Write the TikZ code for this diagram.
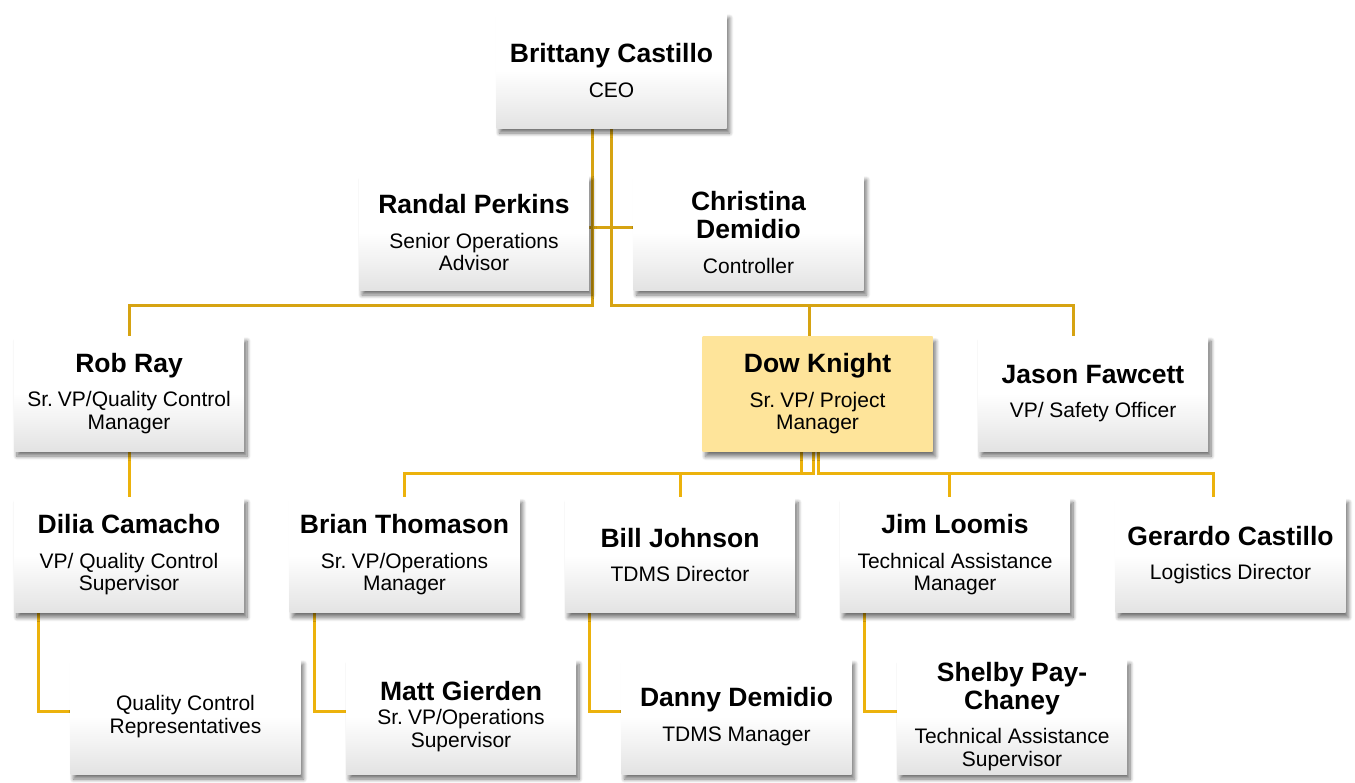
\documentclass[tikz,border=0pt]{standalone}
\usepackage{fontspec}
\setmainfont{Liberation Sans}
\usetikzlibrary{shadows.blur,backgrounds}
\definecolor{goldA}{RGB}{214,163,18}
\definecolor{goldB}{RGB}{236,178,12}
\definecolor{dowfill}{RGB}{254,228,154}
\newcommand\nmfont{\fontsize{26.5}{28}\selectfont\bfseries\spaceskip=0.278em\relax}
\newcommand\sbfont{\fontsize{21}{22.5}\selectfont\spaceskip=0.278em\relax}
\newcommand\card[3][12pt]{{\nmfont #2\par}\vspace{#1}{\sbfont #3\par}}
\newcommand\subonly[1]{{\sbfont #1\par}}
\tikzset{
  card/.style={rectangle, minimum width=230pt, minimum height=115pt, inner sep=0pt,
    text width=224pt, align=center,
    top color=white, bottom color=black!11, middle color=white,
    blur shadow={shadow xshift=3pt, shadow yshift=-5pt, shadow blur radius=4pt, shadow blur steps=8, shadow opacity=55}},
  dowcard/.style={card, top color=dowfill, bottom color=dowfill, middle color=dowfill},
  conn/.style={draw=goldA, line width=3pt},
  connB/.style={draw=goldB, line width=3pt}
}
\begin{document}
\begin{tikzpicture}[x=1pt,y=-1pt]
\useasboundingbox (0,0) rectangle (1355,782);
\node[card] (ceo) at (611.5,70.5) {\card{Brittany Castillo}{CEO}};
\node[card] (randal) at (474,232.5) {\card{Randal Perkins}{Senior Operations\\Advisor}};
\node[card] (christina) at (748.5,232.5) {\card{Christina\\Demidio}{Controller}};
\node[card] (rob) at (129,393.5) {\card{Rob Ray}{Sr. VP/Quality Control\\Manager}};
\node[dowcard] (dow) at (817.5,394) {\card{Dow Knight}{Sr. VP/ Project\\Manager}};
\node[card] (jason) at (1093,393.5) {\card{Jason Fawcett}{VP/ Safety Officer}};
\node[card] (dilia) at (129,555) {\card{Dilia Camacho}{VP/ Quality Control\\Supervisor}};
\node[card] (brian) at (404.5,555) {\card{Brian Thomason}{Sr. VP/Operations\\Manager}};
\node[card] (bill) at (680,555) {\card{Bill Johnson}{TDMS Director}};
\node[card] (jim) at (955,555) {\card{Jim Loomis}{Technical Assistance\\Manager}};
\node[card] (gerardo) at (1230.5,555) {\card{Gerardo Castillo}{Logistics Director}};
\node[card] (qc) at (185.5,716.5) {\subonly{Quality Control\\Representatives}};
\node[card] (matt) at (461,716.5) {\card[2pt]{Matt Gierden}{Sr. VP/Operations\\Supervisor}};
\node[card] (danny) at (736.5,716.5) {\card{Danny Demidio}{TDMS Manager}};
\node[card] (shelby) at (1012,716.5) {\card{Shelby Pay-\\Chaney}{Technical Assistance\\Supervisor}};
\begin{scope}[on background layer]
\draw[conn] ([xshift=-19.5pt]ceo.south) -- ++(0,177) -| (rob.north);
\draw[conn] (ceo.south) -- ++(0,177) -| ([xshift=-20pt]jason.north);
\draw[conn] ([xshift=-8.5pt]dow.north) -- ++(0,-31);
\draw[conn] ([yshift=5.5pt]randal.east) -- ([yshift=5.5pt]christina.west);
\draw[connB] (rob.south) -- (dilia.north);
\draw[connB] ([xshift=-16.5pt]dow.south) -- ++(0,22) -| (brian.north);
\draw[connB] ([xshift=-4.5pt]dow.south) -- ++(0,22) -| (bill.north);
\draw[connB] ([xshift=0.5pt]dow.south) -- ++(0,22) -| ([xshift=-6pt]jim.north);
\draw[connB] ([xshift=0.5pt]dow.south) -- ++(0,22) -| ([xshift=-17.5pt]gerardo.north);
\draw[connB] ([xshift=-91pt]dilia.south) |- ([yshift=5pt]qc.west);
\draw[connB] ([xshift=-90.5pt]brian.south) |- ([yshift=5pt]matt.west);
\draw[connB] ([xshift=-91pt]bill.south) |- ([yshift=5pt]danny.west);
\draw[connB] ([xshift=-91pt]jim.south) |- ([yshift=5pt]shelby.west);
\end{scope}
\end{tikzpicture}
\end{document}
